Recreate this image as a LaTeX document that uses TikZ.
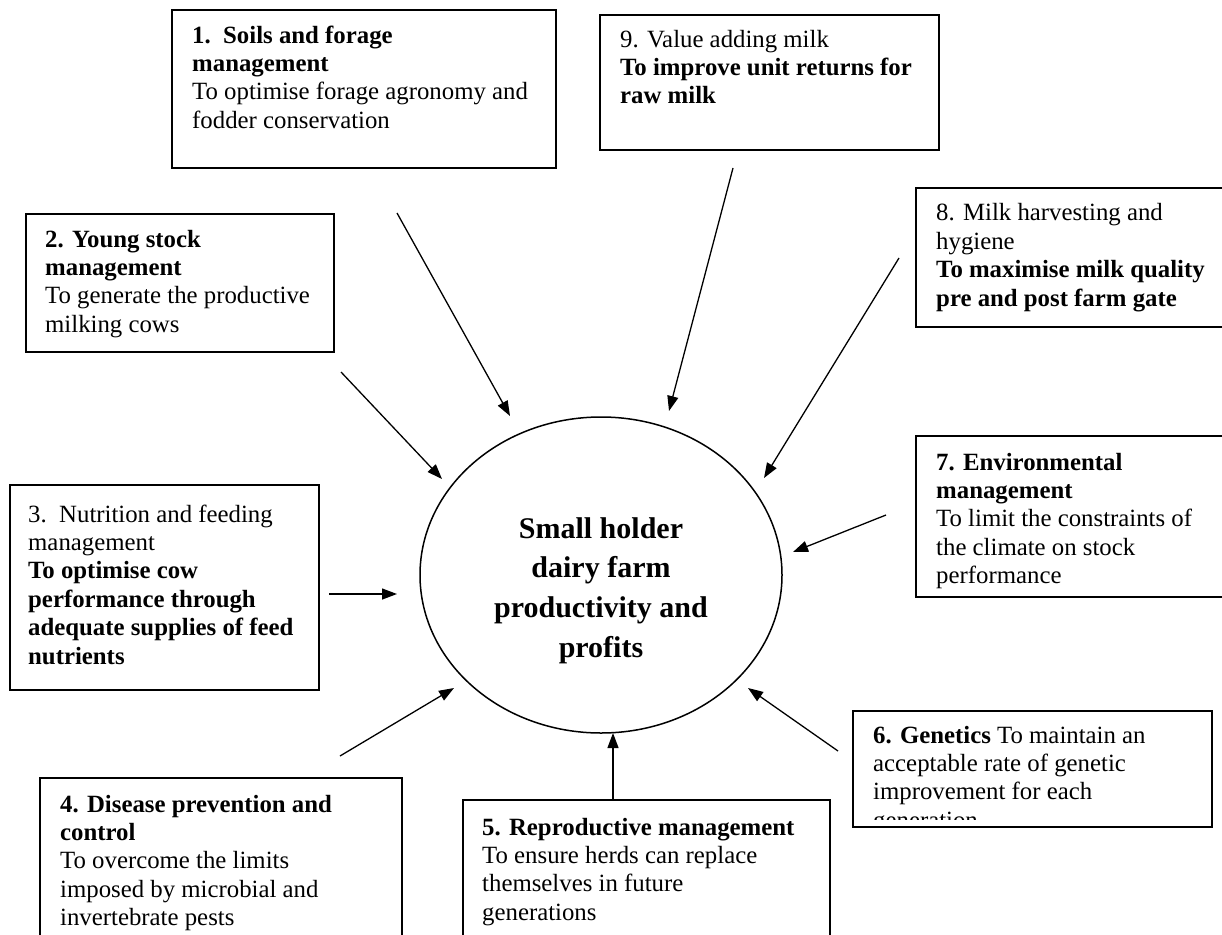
\documentclass[tikz,border=0pt]{standalone}
\usepackage{fontspec}
\setmainfont{Liberation Serif}
\usetikzlibrary{arrows.meta,shapes.geometric}
\begin{document}
\begin{tikzpicture}[x=1pt,y=-1pt,
  box/.style={draw,line width=1.8pt,rectangle,anchor=north west,inner sep=0pt,outer sep=0pt},
  txt/.style={anchor=base west,inner sep=0pt,align=left,font=\fontsize{24.8}{28.4}\selectfont},
  arr/.style={line width=1.3pt,-{Triangle[length=15pt,width=11pt]}}]
\useasboundingbox (0,0) rectangle (1222,934);
\clip (0,0) rectangle (1222,934);
\fill[white] (0,0) rectangle (1222,934);

% boxes
\node[box,minimum width=384pt,minimum height=158pt] (b1) at (172,10) {};
\node[box,minimum width=339pt,minimum height=135pt] (b9) at (600,15) {};
\node[box,minimum width=308pt,minimum height=138pt] (b2) at (26,214) {};
\node[box,minimum width=324pt,minimum height=139pt] (b8) at (916,188) {};
\node[box,minimum width=309pt,minimum height=205pt] (b3) at (10,485) {};
\node[box,minimum width=324pt,minimum height=161pt] (b7) at (916,436) {};
\node[box,minimum width=362pt,minimum height=182pt] (b4) at (40,778) {};
\node[box,minimum width=367pt,minimum height=160pt] (b5) at (463,800) {};
\node[box,minimum width=359pt,minimum height=116pt] (b6) at (853,711) {};

% texts (anchored at the baseline of their last line)
\node[txt] (t1) at (192,128.2) {\textbf{1.\ \ Soils and forage}\\\textbf{management}\\To optimise forage agronomy and\\fodder conservation};
\node[txt] (t9) at (620,103.8) {9. Value adding milk\\\textbf{To improve unit returns for}\\\textbf{raw milk}};
\node[txt] (t2) at (45,332.2) {\textbf{2. Young stock}\\\textbf{management}\\To generate the productive\\milking cows};
\node[txt] (t8) at (936,306) {8. Milk harvesting and\\hygiene\\\textbf{To maximise milk quality}\\\textbf{pre and post farm gate}};
\node[txt] (t3) at (28,664) {3.\ \ Nutrition and feeding\\management\\\textbf{To optimise cow}\\\textbf{performance through}\\\textbf{adequate supplies of feed}\\\textbf{nutrients}};
\begin{scope}
\clip (916,436) rectangle (1240,590);
\node[txt] (t7) at (936,583.6) {\textbf{7. Environmental}\\\textbf{management}\\To limit the constraints of\\the climate on stock\\performance};
\end{scope}
\node[txt] (t4) at (60,925.6) {\textbf{4. Disease prevention and}\\\textbf{control}\\To overcome the limits\\imposed by microbial and\\invertebrate pests};
\node[txt] (t5) at (482,920.2) {\textbf{5. Reproductive management}\\To ensure herds can replace\\themselves in future\\generations};
\begin{scope}
\clip (853,711) rectangle (1212,819);
\node[txt] (t6) at (873,828.2) {\textbf{6. Genetics} To maintain an\\acceptable rate of genetic\\improvement for each\\generation};
\end{scope}

% centre
\node[draw,ellipse,line width=1.5pt,minimum width=362pt,minimum height=316pt,inner sep=0pt] (c) at (601,575) {};
\node[anchor=base,align=center,inner sep=0pt,font=\bfseries\fontsize{30}{39.7}\selectfont] (ct) at (601,657.1) {Small holder\\dairy farm\\productivity and\\profits};

% arrow ends
\coordinate (s1) at (397,213); \coordinate (e1) at (510,416);
\coordinate (s9) at (733,168); \coordinate (e9) at (669,411);
\coordinate (s8) at (899,258); \coordinate (e8) at (764,478);
\coordinate (s2) at (341,372); \coordinate (e2) at (442,479);
\coordinate (s3) at (329,594); \coordinate (e3) at (397,594);
\coordinate (s7) at (886,515); \coordinate (e7) at (793,552);
\coordinate (s4) at (340,756); \coordinate (e4) at (454,688);
\coordinate (s5) at (613,800); \coordinate (e5) at (613,733);
\coordinate (s6) at (838,751); \coordinate (e6) at (748,688);

\foreach \k in {1,9,8,2,3,7,4,5,6} \draw[arr] (s\k) -- (e\k);
\end{tikzpicture}
\end{document}
